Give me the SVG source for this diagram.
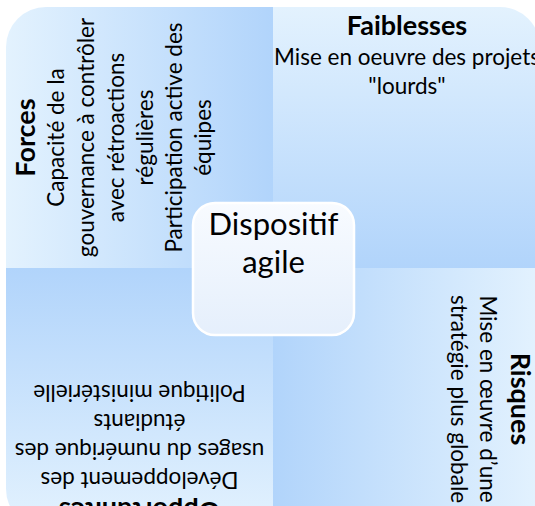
<svg xmlns="http://www.w3.org/2000/svg" width="535" height="506" viewBox="0 0 535 506">
<defs>
<linearGradient id="gL2D" x1="0" y1="0" x2="1" y2="0"><stop offset="0" stop-color="#e3f2fe"/><stop offset="1" stop-color="#b1d4fb"/></linearGradient>
<linearGradient id="gT2D" x1="0" y1="0" x2="0" y2="1"><stop offset="0" stop-color="#e3f2fe"/><stop offset="1" stop-color="#b1d4fb"/></linearGradient>
<linearGradient id="gD2L_V" x1="0" y1="0" x2="0" y2="1"><stop offset="0" stop-color="#b1d4fb"/><stop offset="1" stop-color="#e3f2fe"/></linearGradient>
<linearGradient id="gD2L_H" x1="0" y1="0" x2="1" y2="0"><stop offset="0" stop-color="#b1d4fb"/><stop offset="1" stop-color="#e3f2fe"/></linearGradient>
<linearGradient id="gCenter" x1="0" y1="0" x2="0" y2="1"><stop offset="0" stop-color="#f8fbff"/><stop offset="1" stop-color="#e5effc"/></linearGradient>
</defs>
<style>
text{font-family:Lato,"Open Sans","Liberation Sans",sans-serif;fill:#000;text-anchor:middle}
.t{font-size:27px;font-weight:bold}
.b{font-size:22.5px}
.c{font-size:31px}
</style>
<g id="forces">
<path d="M6,268 V47 A40,40 0 0 1 46,7 H273 V268 Z" fill="url(#gL2D)"/>
<g transform="translate(0,275) rotate(-90)">
<text class="t" x="137.5" y="35">Forces</text>
<text class="b" x="137.5" y="64">Capacité de la</text>
<text class="b" x="137.5" y="94">gouvernance à contrôler</text>
<text class="b" x="137.5" y="123.5">avec rétroactions</text>
<text class="b" x="137.5" y="153">régulières</text>
<text class="b" x="137.5" y="182">Participation active des</text>
<text class="b" x="137.5" y="211">équipes</text>
</g>
</g>
<g id="faiblesses">
<path d="M273,7 H500 A40,40 0 0 1 540,47 V268 H273 Z" fill="url(#gT2D)"/>
<text class="t" x="407" y="35">Faiblesses</text>
<text class="b" x="407" y="65">Mise en oeuvre des projets</text>
<text class="b" x="407" y="94">"lourds"</text>
</g>
<g id="opportunites">
<path d="M6,268 H273 V529 H46 A40,40 0 0 1 6,489 Z" fill="url(#gD2L_V)"/>
<g transform="translate(279,537) rotate(180)">
<text class="t" x="139.5" y="35">Opportunités</text>
<text class="b" x="139.5" y="65">Développement des</text>
<text class="b" x="139.5" y="94">usages du numérique des</text>
<text class="b" x="139.5" y="123">étudiants</text>
<text class="b" x="139.5" y="152">Politique ministérielle</text>
</g>
</g>
<g id="risques">
<path d="M273,268 H540 V489 A40,40 0 0 1 500,529 H273 Z" fill="url(#gD2L_H)"/>
<g transform="translate(546,0) rotate(90)">
<text class="t" x="399" y="35">Risques</text>
<text class="b" x="399" y="66">Mise en œuvre d’une</text>
<text class="b" x="399" y="95">stratégie plus globale</text>
</g>
</g>
<g id="dispositif">
<rect x="193" y="203" width="161" height="132" rx="22" fill="url(#gCenter)" stroke="#ffffff" stroke-width="2.5"/>
<text class="c" x="273.5" y="235">Dispositif</text>
<text class="c" x="273.5" y="273">agile</text>
</g>
</svg>
